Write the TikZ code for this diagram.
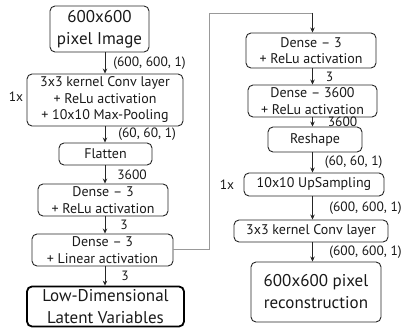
\documentclass[tikz,border=0pt]{standalone}
\usepackage{fontspec}
\setmainfont{PT Sans}
\usetikzlibrary{arrows.meta}

\begin{document}
\begin{tikzpicture}[x=1pt,y=-1pt,
  box/.style={draw=black!85, rounded corners=5pt, line width=0.9pt, align=center,
    inner sep=0pt, text=black!90, font=\fontsize{14}{16.5}\selectfont},
  bigbox/.style={box, font=\fontsize{17}{22}\selectfont},
  arr/.style={draw=black!85, line width=0.7pt, -{Stealth[length=5pt,width=4.5pt]}},
  lbl/.style={anchor=west, inner sep=0pt, text=black!90, font=\fontsize{13.5}{14}\selectfont},
  link/.style={draw=black!40, line width=0.8pt}]
\useasboundingbox (0,0) rectangle (402,328);

% encoder column
\coordinate (lx) at (105,0);
\node[bigbox, minimum width=99, minimum height=46] (img) at (99.5,29) {600x600\\pixel Image};
\node[box, minimum width=156, minimum height=52] (conv) at (105,100) {3x3 kernel Conv layer\\+ ReLu activation\\+ 10x10 Max-Pooling};
\node[box, minimum width=93, minimum height=22] (flat) at (105.5,154) {Flatten};
\node[box, minimum width=130, minimum height=32] (d1) at (103,200) {Dense -- 3\\+ ReLu activation};
\node[box, minimum width=141, minimum height=32] (d2) at (102.5,250) {Dense -- 3\\+ Linear activation};
\node[bigbox, line width=1.8pt, draw=black, minimum width=157, minimum height=40] (lat) at (105.5,306.5) {Low-Dimensional\\Latent Variables};

\node[lbl, anchor=center] (rep1) at (16,97) {1x};

\draw[arr] (img.south -| lx) -- (conv.north -| lx) node[lbl, pos=0.5, xshift=8pt] {(600, 600, 1)};
\draw[arr] (conv.south -| lx) -- (flat.north -| lx) node[lbl, pos=0.5, xshift=13pt] {(60, 60, 1)};
\draw[arr] (flat.south -| lx) -- (d1.north -| lx) node[lbl, pos=0.5, xshift=12pt] {3600};
\draw[arr] (d1.south -| lx) -- (d2.north -| lx) node[lbl, pos=0.5, xshift=15pt] {3};
\draw[arr] (d2.south -| lx) -- (lat.north -| lx) node[lbl, pos=0.5, xshift=16pt] {3};

% decoder column
\coordinate (rx) at (312.5,0);
\node[box, minimum width=130, minimum height=35] (e1) at (311,50.5) {Dense -- 3\\+ ReLu activation};
\node[box, minimum width=129, minimum height=32] (e2) at (312.5,101) {Dense -- 3600\\+ ReLu activation};
\node[box, minimum width=94, minimum height=25] (resh) at (315,139.5) {Reshape};
\node[box, minimum width=140, minimum height=23] (up) at (314,184.5) {10x10 UpSampling};
\node[box, minimum width=154, minimum height=22] (rconv) at (311,231) {3x3 kernel Conv layer};
\node[bigbox, minimum width=130, minimum height=60] (rec) at (316,292) {600x600 pixel\\reconstruction};

\node[lbl, anchor=center] (rep2) at (227,185) {1x};

\draw[arr] (e1.south -| rx) -- (e2.north -| rx) node[lbl, pos=0.5, xshift=13pt] {3};
\draw[arr] (e2.south -| rx) -- (resh.north -| rx) node[lbl, pos=0.5, xshift=15pt] {3600};
\draw[arr] (resh.south -| rx) -- (up.north -| rx) node[lbl, pos=0.5, xshift=12pt] {(60, 60, 1)};
\draw[arr] (up.south -| rx) -- (rconv.north -| rx) node[lbl, pos=0.5, xshift=16.5pt] {(600, 600, 1)};
\draw[arr] (rconv.south -| rx) -- (rec.north -| rx) node[lbl, pos=0.5, xshift=16.5pt] {(600, 600, 1)};

% latent code feeds the decoder
\coordinate (c1) at (209,249);
\coordinate (c2) at (209,13);
\draw[link] (d2.east |- c1) -- (c1) -- (c2) -- (c2 -| rx);
\draw[arr] (c2 -| rx) -- (e1.north -| rx);
\end{tikzpicture}
\end{document}
